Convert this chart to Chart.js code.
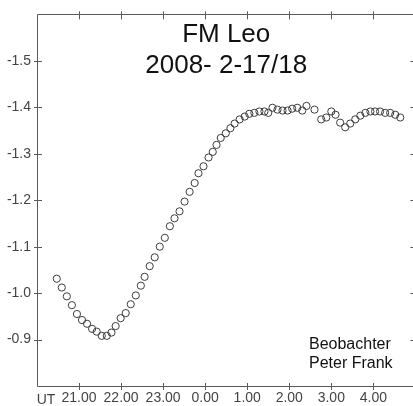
<!DOCTYPE html>
<html>
<head>
<meta charset="utf-8">
<title>FM Leo 2008-2-17/18</title>
<script src="https://cdn.jsdelivr.net/npm/chart.js@4.4.1/dist/chart.umd.min.js"></script>
<style>
  html, body { margin: 0; padding: 0; background: #fff; overflow: hidden; }
  canvas { display: block; }
</style>
</head>
<body>
<canvas id="lcChart" width="420" height="406"></canvas>
<script>
/* FM Leo light curve, 2008-2-17/18. Time in UT hours (after midnight = 24+) */

var chartTitle = ['FM Leo', '2008- 2-17/18'];
var observerLines = ['Beobachter', 'Peter Frank'];

var utHours = [
  20.47, 20.59, 20.71, 20.83, 20.95, 21.07, 21.19, 21.31, 21.42, 21.54,
  21.66, 21.77, 21.87, 21.99, 22.11, 22.23, 22.35, 22.47, 22.56, 22.68,
  22.80, 22.92, 23.04, 23.16, 23.27, 23.39, 23.51, 23.63, 23.75, 23.84,
  23.96, 24.08, 24.18, 24.27, 24.37, 24.49, 24.60, 24.70, 24.82, 24.94,
  25.05, 25.17, 25.29, 25.41, 25.50, 25.60, 25.72, 25.84, 25.96, 26.07,
  26.19, 26.31, 26.41, 26.60, 26.76, 26.88, 27.00, 27.10, 27.21, 27.33,
  27.45, 27.57, 27.69, 27.81, 27.93, 28.04, 28.16, 28.28, 28.40, 28.52,
  28.64
];

var magDiff = [
  -1.031, -1.012, -0.993, -0.974, -0.955, -0.942, -0.934, -0.923, -0.917, -0.908,
  -0.908, -0.915, -0.929, -0.946, -0.957, -0.976, -0.995, -1.016, -1.035, -1.058,
  -1.077, -1.100, -1.119, -1.144, -1.161, -1.176, -1.197, -1.218, -1.237, -1.258,
  -1.273, -1.292, -1.304, -1.319, -1.334, -1.344, -1.355, -1.365, -1.374, -1.380,
  -1.386, -1.388, -1.391, -1.391, -1.388, -1.399, -1.395, -1.393, -1.393, -1.397,
  -1.399, -1.393, -1.403, -1.395, -1.374, -1.378, -1.391, -1.384, -1.367, -1.357,
  -1.365, -1.374, -1.382, -1.388, -1.391, -1.391, -1.391, -1.388, -1.388, -1.384,
  -1.378
];

var xRange = [20, 29];
var yRange = [-1.6, -0.8];
var utLabel = 'UT';

var axisColor = '#5a5a5a';
var labelColor = '#444444';

/* frame, tick marks on all four sides, title and observer note */
var framePlugin = {
  id: 'frame',
  afterDraw: function(chart) {
    var ctx = chart.ctx;
    var a = chart.chartArea;
    var xs = chart.scales.x;
    var ys = chart.scales.y;
    ctx.save();
    ctx.strokeStyle = axisColor;
    ctx.lineWidth = 1;
    ctx.beginPath();
    ctx.rect(Math.round(a.left) + 0.5, Math.round(a.top) + 0.5,
             Math.round(a.right - a.left), Math.round(a.bottom - a.top));
    ctx.stroke();

    ctx.beginPath();
    xs.ticks.forEach(function(t) {
      var px = Math.round(xs.getPixelForValue(t.value)) + 0.5;
      if (t.value <= xRange[0] || t.value >= xRange[1]) return;
      ctx.moveTo(px, a.bottom - 3); ctx.lineTo(px, a.bottom + 4);
      ctx.moveTo(px, a.top - 3);    ctx.lineTo(px, a.top + 5);
    });
    ys.ticks.forEach(function(t) {
      var py = Math.round(ys.getPixelForValue(t.value)) + 0.5;
      if (Math.abs(t.value - yRange[0]) < 1e-6 || Math.abs(t.value - yRange[1]) < 1e-6) return;
      ctx.moveTo(a.left - 3, py);  ctx.lineTo(a.left + 5, py);
      ctx.moveTo(a.right - 5, py); ctx.lineTo(a.right + 3, py);
    });
    ctx.stroke();

    var cx = (a.left + a.right) / 2;
    ctx.fillStyle = '#111111';
    ctx.textAlign = 'center';
    ctx.textBaseline = 'alphabetic';
    ctx.font = '26px "Liberation Sans", Arial, sans-serif';
    ctx.fillText(chartTitle[0], cx, 42);
    ctx.fillText(chartTitle[1], cx, 73);

    ctx.textAlign = 'left';
    ctx.font = '16px "Liberation Sans", Arial, sans-serif';
    ctx.fillText(observerLines[0], 309, 349);
    ctx.fillText(observerLines[1], 309, 368);

    ctx.fillStyle = labelColor;
    ctx.textAlign = 'center';
    ctx.font = '14px "Liberation Sans", Arial, sans-serif';
    ctx.fillText(utLabel, 46, 404);
    ctx.restore();
  }
};

var points = utHours.map(function(h, i) { return { x: h, y: magDiff[i] }; });

var tickFont = { family: '"Liberation Sans", Arial, sans-serif', size: 14 };

new Chart(document.getElementById('lcChart'), {
  type: 'scatter',
  data: {
    datasets: [{
      data: points,
      showLine: false,
      pointStyle: 'circle',
      pointRadius: 3.6,
      pointHoverRadius: 3.6,
      borderWidth: 1,
      borderColor: '#3c3c3c',
      backgroundColor: 'rgba(0,0,0,0)'
    }]
  },
  options: {
    responsive: false,
    animation: false,
    layout: { padding: { top: 7, right: 4, left: 0, bottom: 0 } },
    plugins: {
      legend: { display: false },
      tooltip: { enabled: false }
    },
    scales: {
      x: {
        type: 'linear',
        min: xRange[0],
        max: xRange[1],
        grid: { display: false, drawTicks: false },
        border: { display: false },
        afterFit: function(scale) { scale.height = 20; },
        ticks: {
          stepSize: 1,
          padding: 4,
          color: labelColor,
          font: tickFont,
          maxRotation: 0,
          autoSkip: false,
          callback: function(v) {
            if (v <= xRange[0] || v >= xRange[1]) return '';
            return (v % 24).toFixed(2);
          }
        }
      },
      y: {
        type: 'linear',
        min: yRange[0],
        max: yRange[1],
        reverse: true,
        grid: { display: false, drawTicks: false },
        border: { display: false },
        afterFit: function(scale) { scale.width = 37; },
        ticks: {
          stepSize: 0.1,
          padding: 6,
          color: labelColor,
          font: tickFont,
          callback: function(v) {
            if (Math.abs(v - yRange[0]) < 1e-6 || Math.abs(v - yRange[1]) < 1e-6) return '';
            return v.toFixed(1);
          }
        }
      }
    }
  },
  plugins: [framePlugin]
});
</script>
</body>
</html>
